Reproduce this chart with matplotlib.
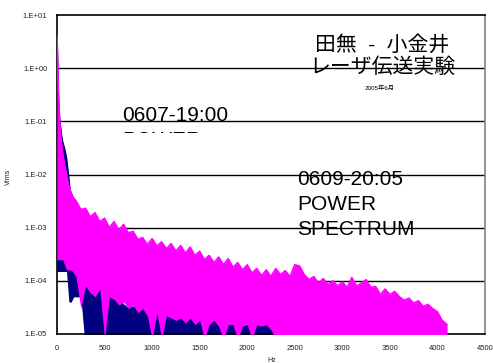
import matplotlib
matplotlib.use("Agg")
import matplotlib.pyplot as plt
from matplotlib.transforms import Bbox, TransformedBbox
from matplotlib.ticker import FixedLocator, FixedFormatter, NullLocator

plt.rcParams['font.family'] = ['Liberation Sans', 'Noto Sans CJK JP', 'DejaVu Sans']

# ---------------- data ----------------
freq_head = [0, 5, 10, 15, 20, 30, 40, 50, 60, 80, 100, 125, 150, 175]
freq_tail = list(range(200, 4101, 50))
freq = freq_head + freq_tail

# 0609-20:05 series (magenta)
mag_upper = [4.0, 2.0, 0.7, 0.35, 0.2, 0.09, 0.05, 0.035, 0.025, 0.015, 0.01, 6e-3, 4.5e-3, 3.6e-3,
             3.2e-3, 2.2e-3, 2.3e-3, 1.6e-3, 1.9e-3, 1.3e-3, 1.5e-3, 1.0e-3, 1.3e-3, 9e-4,
             1.15e-3, 8e-4, 8.5e-4, 6e-4, 6.5e-4, 4.8e-4, 6.2e-4, 4.5e-4, 5.4e-4, 4e-4,
             5.0e-4, 3.6e-4, 4.6e-4, 3.3e-4, 4.3e-4, 3.0e-4, 3.6e-4, 2.5e-4, 3.0e-4, 2.2e-4,
             2.8e-4, 2.0e-4, 2.6e-4, 1.8e-4, 2.2e-4, 1.6e-4, 2.0e-4, 1.4e-4, 1.7e-4, 1.25e-4,
             1.6e-4, 1.2e-4, 1.7e-4, 1.3e-4, 1.55e-4, 1.2e-4, 2.0e-4, 1.9e-4, 1.3e-4, 1.05e-4,
             1.2e-4, 9e-5, 1.1e-4, 8.5e-5, 1.0e-4, 8e-5, 9.5e-5, 7.5e-5, 1.15e-4, 8e-5,
             9e-5, 1.05e-4, 7.5e-5, 7.8e-5, 5.5e-5, 7.0e-5, 5.5e-5, 6.3e-5, 5.0e-5, 4.3e-5,
             4.7e-5, 3.8e-5, 4.2e-5, 3.3e-5, 3.6e-5, 3.0e-5, 2.6e-5, 1.8e-5, 1.5e-5]
mag_lower = [2.5e-4, 2.5e-4, 2.5e-4, 2.5e-4, 2.5e-4, 2.5e-4, 2.5e-4, 2.5e-4, 2.5e-4, 2e-4, 1.6e-4, 1.6e-4, 1.6e-4, 1.4e-4,
             1.2e-4, 3e-5, 8e-5, 6e-5, 5e-5, 7e-5, 8e-6, 5e-5, 4.5e-5, 3.5e-5,
             4e-5, 3e-5, 3.5e-5, 2.5e-5, 3e-5, 2.2e-5, 8e-6, 2.5e-5, 8e-6, 2.2e-5,
             2e-5, 1.8e-5, 2e-5, 1.6e-5, 2e-5, 1.5e-5, 1.8e-5, 8e-6, 1.5e-5, 1.8e-5,
             1.4e-5, 8e-6, 1.5e-5, 1.5e-5, 8e-6, 1.4e-5, 1.5e-5, 8e-6, 1.5e-5, 1.4e-5,
             1.5e-5, 1.2e-5, 8e-6, 8e-6, 8e-6, 8e-6, 8e-6, 8e-6, 8e-6, 8e-6,
             8e-6, 8e-6, 8e-6, 8e-6, 8e-6, 8e-6, 8e-6, 8e-6, 8e-6, 8e-6,
             8e-6, 8e-6, 8e-6, 8e-6, 8e-6, 8e-6, 8e-6, 8e-6, 8e-6, 8e-6,
             8e-6, 8e-6, 8e-6, 8e-6, 8e-6, 8e-6, 8e-6, 8e-6, 8e-6]

# 0607-19:00 series (navy)
blu_upper = [3.0, 1.5, 0.5, 0.25, 0.15, 0.1, 0.07, 0.05, 0.04, 0.03, 0.02, 8e-3, 3e-3, 1.5e-3,
             8e-4, 5e-4, 2.5e-4, 1.5e-4, 1.1e-4, 9e-5, 6e-5, 5.5e-5, 6e-5, 4.5e-5,
             3.5e-5, 3e-5, 3.2e-5, 3e-5, 3.4e-5, 2.8e-5, 3e-5, 2.6e-5, 3.5e-5, 4e-5,
             3e-5, 3.5e-5, 2.8e-5, 3.2e-5, 4.5e-5, 6.5e-5, 4e-5, 3.5e-5, 2.2e-5, 2.5e-5,
             4e-5, 3.5e-5, 2.5e-5, 2.2e-5, 1.8e-5, 2.5e-5, 2e-5, 1.8e-5, 2.2e-5, 2e-5,
             1.6e-5, 1.2e-5, 1.1e-5, 9e-6, 1.3e-5, 8e-6, 1.2e-5, 1.8e-5, 2e-5, 9e-6,
             8e-6, 1.1e-5, 8e-6, 1.1e-5, 8e-6, 1.2e-5, 8e-6, 9e-6, 1.3e-5, 2e-5,
             1.1e-5, 2.2e-5, 8e-6, 1.2e-5, 8e-6, 9e-6, 8e-6, 8e-6, 8e-6, 8e-6,
             8e-6, 8e-6, 8e-6, 8e-6, 8e-6, 8e-6, 8e-6, 8e-6, 8e-6]
blu_lower = ([1.5e-4] * 11 + [4e-5, 4e-5, 5e-5] + [5e-5, 5e-5] + [5e-6] * 77)

ytick_vals = [1e-5, 1e-4, 1e-3, 1e-2, 1e-1, 1e0, 1e1]
ytick_labels = ["1.E-05", "1.E-04", "1.E-03", "1.E-02", "1.E-01", "1.E+00", "1.E+01"]
xtick_vals = [0, 500, 1000, 1500, 2000, 2500, 3000, 3500, 4000, 4500]

# ---------------- figure ----------------
W, H = 493, 363
fig = plt.figure(figsize=(W / 100, H / 100), dpi=100)
ax = fig.add_axes([57 / W, 1 - 334 / H, 428 / W, 319 / H])

ax.fill_between(freq, blu_lower, blu_upper, color='#000080', lw=0, zorder=2)
ax.plot(freq, blu_upper, color='#000080', lw=1.2, zorder=2)
ax.fill_between(freq, mag_lower, mag_upper, color='#FF00FF', lw=0, zorder=3)
ax.plot(freq, mag_upper, color='#FF00FF', lw=1.2, zorder=3)

ax.set_yscale('log')
ax.set_xlim(0, 4500)
ax.set_ylim(1e-5, 1e1)
ax.yaxis.set_major_locator(FixedLocator(ytick_vals))
ax.yaxis.set_major_formatter(FixedFormatter(ytick_labels))
ax.yaxis.set_minor_locator(NullLocator())
ax.set_xticks(xtick_vals)
ax.set_xticklabels([str(v) for v in xtick_vals])
ax.tick_params(axis='both', length=0, labelsize=5.5, colors='#222222')
ax.tick_params(axis='y', pad=7)
ax.tick_params(axis='x', pad=8)
for v in ytick_vals[1:-1]:
    ax.axhline(v, color='black', lw=1.0, zorder=1)

for s in ['left', 'bottom', 'top']:
    ax.spines[s].set_color('black')
    ax.spines[s].set_linewidth(1.2)
ax.spines['right'].set_color('#808080')
ax.spines['right'].set_linewidth(1.2)

fig.text(272 / W, 1 - 360 / H, "Hz", fontsize=5, ha='center', va='center', color='#222222')
fig.text(8 / W, 1 - 177 / H, "Vrms", fontsize=5, ha='center', va='center', rotation=90, color='#222222')

# title block
fig.text(382 / W, 1 - 45 / H, "田無  -  小金井", fontsize=15, ha='center', va='center')
fig.text(382 / W, 1 - 67 / H, "レーザ伝送実験", fontsize=15, ha='center', va='center')
fig.text(380 / W, 1 - 88 / H, "2005年6月", fontsize=4.5, ha='center', va='center')

# annotation 1 (clipped box)
clip = TransformedBbox(Bbox.from_extents(0, 1 - 133 / H, 1, 1), fig.transFigure)
for i, line in enumerate(["0607-19:00", "POWER", "SPECTRUM"]):
    t = fig.text(122 / W, 1 - (121 + 25 * i) / H, line, fontsize=15, ha='left', va='baseline')
    t.set_clip_on(True)
    t.set_clip_box(clip)

# annotation 2
for i, line in enumerate(["0609-20:05", "POWER", "SPECTRUM"]):
    fig.text(297 / W, 1 - (185 + 25 * i) / H, line, fontsize=15, ha='left', va='baseline')

fig.savefig("out.png", dpi=100)
